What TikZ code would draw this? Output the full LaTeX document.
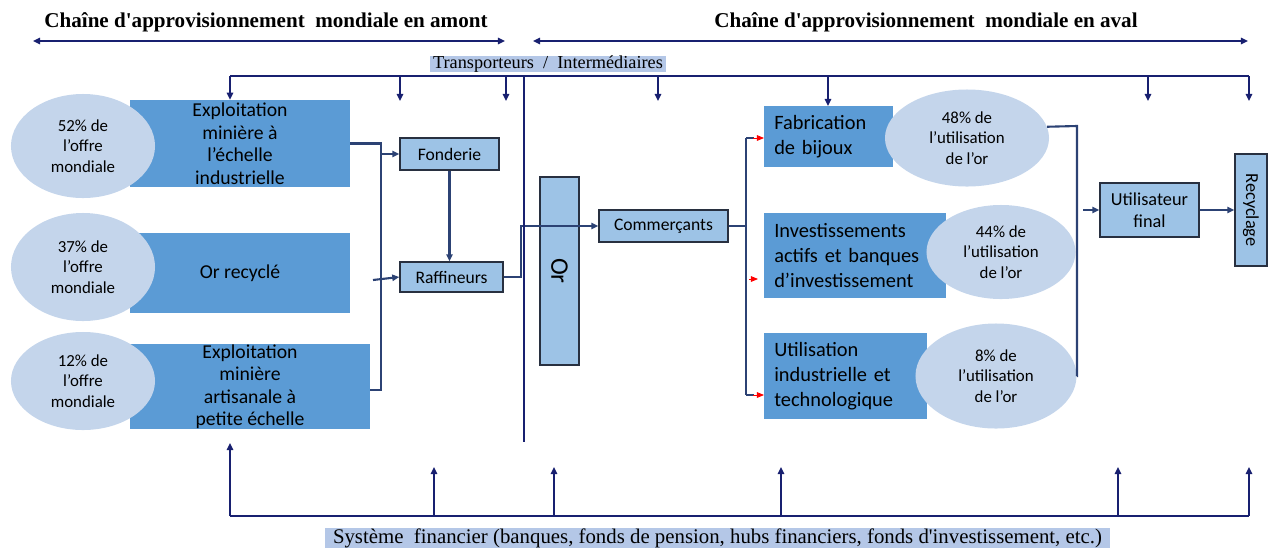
\documentclass[tikz,border=0pt]{standalone}
\usepackage{fontspec}
\setmainfont{Liberation Serif}
\newfontfamily\boxfont{Carlito}
\usetikzlibrary{arrows.meta}
\usetikzlibrary{calc}
\usetikzlibrary{positioning}
\usetikzlibrary{shapes.geometric}

\definecolor{navy}{RGB}{24,32,112}
\definecolor{flowblue}{RGB}{44,66,116}
\definecolor{boxedge}{RGB}{40,48,64}
\definecolor{stageblue}{RGB}{91,155,213}
\definecolor{stepblue}{RGB}{157,195,230}
\definecolor{shareblue}{RGB}{196,213,235}
\definecolor{tagblue}{RGB}{180,199,231}

\begin{document}
\begin{tikzpicture}[x=0.025cm, y=-0.025cm,
    stagebox/.style={rectangle, fill=stageblue, inner sep=0pt, font=\boxfont\fontsize{14}{16}\selectfont, align=center},
    usebox/.style={rectangle, fill=stageblue, inner xsep=0.25cm, inner ysep=0pt, anchor=west, font=\boxfont\fontsize{14.5}{18}\selectfont, align=left},
    sharenode/.style={ellipse, fill=shareblue, inner sep=0pt, font=\boxfont\fontsize{12}{14.6}\selectfont, align=center},
    smallbox/.style={rectangle, draw=boxedge, line width=1pt, fill=stepblue, inner sep=0pt, font=\boxfont\fontsize{12.5}{15}\selectfont, align=center},
    tagnode/.style={rectangle, fill=tagblue, inner sep=0pt, font=\fontsize{13}{15}\selectfont},
    titlenode/.style={font=\bfseries\fontsize{15}{18}\selectfont},
    flow/.style={draw=flowblue, line width=1.5pt},
    flowarrow/.style={flow, -{Triangle[length=5pt,width=4.5pt]}},
    bus/.style={draw=navy, line width=1.5pt},
    busarrow/.style={bus, -{Triangle[length=5pt,width=4.5pt]}},
    redarrow/.style={draw=red, line width=0.6pt, -{Triangle[length=5pt,width=4pt]}}]
\useasboundingbox (0,0) rectangle (1268,548);

% titles and scope arrows
\node[titlenode] (uptitle) at (266,22) {Chaîne d\textquotesingle approvisionnement\ \ mondiale en amont};
\node[titlenode] (downtitle) at (926,22) {Chaîne d\textquotesingle approvisionnement\ \ mondiale en aval};
\draw[bus, {Triangle[length=5pt,width=4.5pt]}-{Triangle[length=5pt,width=4.5pt]}] (33,41) -- (505,41);
\draw[bus, {Triangle[length=5pt,width=4.5pt]}-{Triangle[length=5pt,width=4.5pt]}] (533,41) -- (1248,41);

% upstream sources
\node[stagebox, minimum width=5.5cm, minimum height=2.175cm] (mine1) at (240,143.5) {Exploitation\\minière à\\l’échelle\\industrielle};
\node[stagebox, minimum width=5.5cm, minimum height=2cm] (mine2) at (240,273) {Or recyclé};
\node[stagebox, minimum width=6cm, minimum height=2.125cm] (mine3) at (250,386.5) {Exploitation\\minière\\artisanale à\\petite échelle};
\node[sharenode, minimum width=3.6cm, minimum height=2.6cm] (share52) at (83,146) {52\% de\\l’offre\\mondiale};
\node[sharenode, minimum width=3.6cm, minimum height=2.7cm] (share37) at (83,267) {37\% de\\l’offre\\mondiale};
\node[sharenode, minimum width=3.6cm, minimum height=2.45cm] (share12) at (83,381) {12\% de\\l’offre\\mondiale};

% processing
\node[smallbox, minimum width=2.475cm, minimum height=0.8cm] (fond) at (449.5,154) {Fonderie};
\node[smallbox, minimum width=2.575cm, minimum height=0.75cm] (raff) at (451.5,277) {Raffineurs};
\node[smallbox, minimum width=4.7cm, minimum height=0.975cm, rotate=-90, font=\boxfont\fontsize{18}{20}\selectfont] (gold) at (559.5,271) {Or};
\node[smallbox, minimum width=3.225cm, minimum height=0.8cm] (comm) at (663.5,226) {Commerçants};

% downstream uses
\node[usebox, minimum height=1.525cm, text width=2.725cm] (fab) at (764,136.5) {Fabrication\\de bijoux};
\node[usebox, minimum height=2.125cm, text width=4.05cm] (inv) at (764,255.5) {Investissements\\actifs et banques\\d’investissement};
\node[usebox, minimum height=2.15cm, text width=3.575cm] (util) at (764,376) {Utilisation\\industrielle et\\technologique};
\node[sharenode, minimum width=4.1cm, minimum height=2.425cm] (use48) at (967,138) {48\% de\\l’utilisation\\de l’or};
\node[sharenode, minimum width=3.725cm, minimum height=2.35cm] (use44) at (1001,252) {44\% de\\l’utilisation\\de l’or};
\node[sharenode, minimum width=4.025cm, minimum height=2.625cm] (use8) at (996,376) {8\% de\\l’utilisation\\de l’or};
\node[smallbox, minimum width=2.475cm, minimum height=1.35cm, font=\boxfont\fontsize{13}{16}\selectfont] (ufinal) at (1149.5,210) {Utilisateur\\final};
\node[smallbox, minimum width=2.8cm, minimum height=0.8cm, rotate=-90, font=\boxfont\fontsize{13}{16}\selectfont] (recy) at (1251,210) {Recyclage};

% labels of the two service layers
\node[tagnode, minimum width=5.875cm, minimum height=0.4cm] (carriers) at (548,64) {Transporteurs\ \ /\ \ Intermédiaires};
\node[tagnode, minimum width=19.6cm, minimum height=0.5cm, font=\fontsize{14.8}{16}\selectfont] (finance) at (717.5,538) {Système\ \ financier (banques, fonds de pension, hubs financiers, fonds d\textquotesingle investissement, etc.)};

% upstream flow
\coordinate (srcbus) at (381,390);
\coordinate (recin) at (373,280);
\draw[flow] (mine1.east) -| (srcbus) -- (srcbus -| mine3.east);
\draw[flowarrow] (fond.west -| srcbus) -- (fond.west);
\draw[flowarrow] (recin) -- (raff.west);
\draw[flowarrow] (fond.south) -- (fond.south |- raff.north);
\draw[flowarrow] (raff.east) -- ++(17,0) |- (comm.west);

% downstream flow
\coordinate (fan) at (746,226);
\coordinate (fantop) at (746,138);
\coordinate (fanbot) at (746,395);
\draw[flow] (comm.east) -- (fan);
\draw[flow] (fantop) -- (fanbot);
\draw[flow] (fantop) -- ++(8,0);
\draw[flow] (fanbot) -- ++(8,0);
\draw[redarrow] ($(fantop)+(7,0)$) -- (fantop -| fab.west);
\draw[redarrow] (749,279) -- (758,279);
\draw[redarrow] ($(fanbot)+(7,0)$) -- (fanbot -| util.west);
\coordinate (usetop) at (1077,126);
\coordinate (usein) at (1083,210);
\draw[flow] (use48.8) -- (usetop) |- (use8.east);
\draw[flowarrow] (usein) -- (ufinal.west);
\draw[flowarrow] (ufinal) -- (recy);

% carriers layer
\coordinate (tl) at (230,76);
\coordinate (tr) at (1249,76);
\draw[bus] (tl) -- (tr);
\draw[bus] (524,76) -- (524,442);
\draw[busarrow] (tl) -- (tl |- mine1.north);
\draw[busarrow] (828,76) -- (828,106);
\foreach \x in {400,506,658,1148,1249}
    \draw[busarrow] (\x,76) -- (\x,101);

% financial layer
\coordinate (bl) at (230,516);
\coordinate (br) at (1249,516);
\draw[bus] (bl) -- (br);
\draw[busarrow] (bl) -- (230,443);
\foreach \x in {434,554,781,1118,1249}
    \draw[busarrow] (\x,516) -- (\x,467);

\end{tikzpicture}
\end{document}
